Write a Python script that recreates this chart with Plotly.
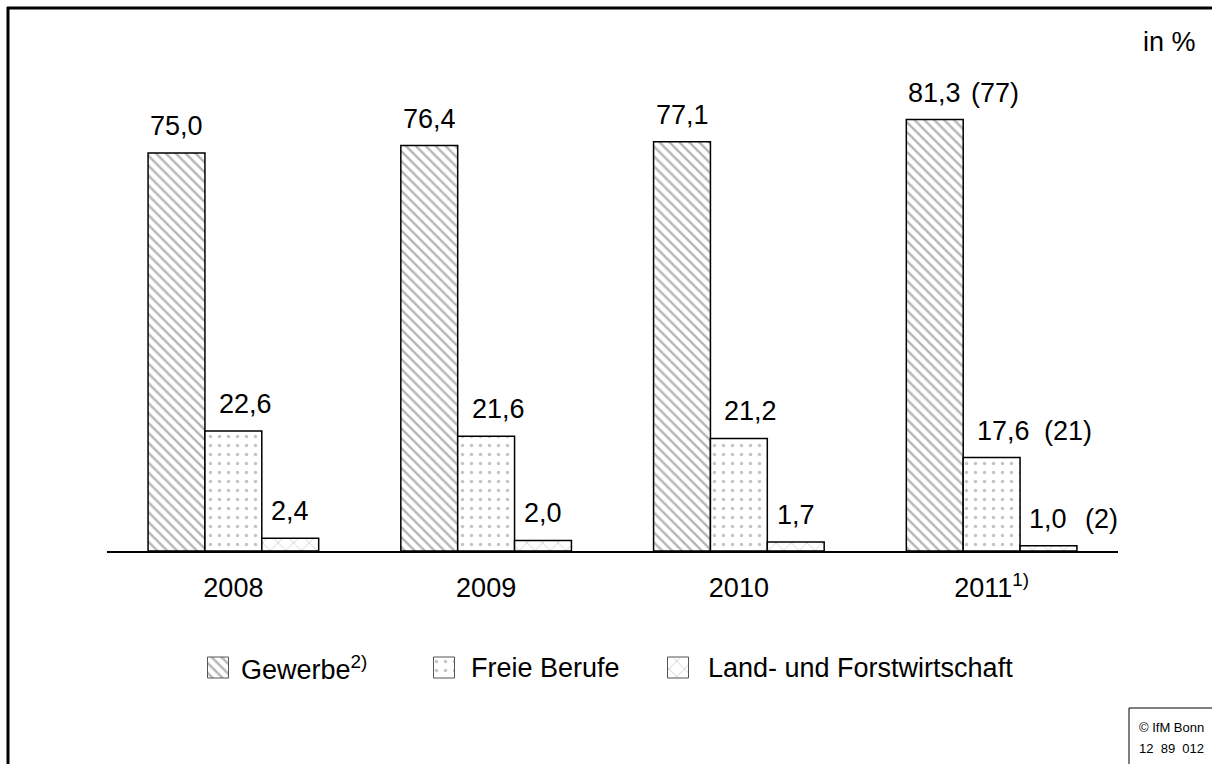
import plotly.graph_objects as go

years = ["2008", "2009", "2010", "2011<sup>1)</sup>"]
series_names = ["Gewerbe<sup>2)</sup>", "Freie Berufe", "Land- und Forstwirtschaft"]
gewerbe = [75.0, 76.4, 77.1, 81.3]
freie = [22.6, 21.6, 21.2, 17.6]
land = [2.4, 2.0, 1.7, 1.0]
notes_gewerbe = ["", "", "", "(77)"]
notes_freie = ["", "", "", "(21)"]
notes_land = ["", "", "", "(2)"]

W, H = 1212, 764
PLOT_L, PLOT_R, PLOT_T, PLOT_B = 107, 1118, 45, 551
PX_PER_UNIT = 5.307
YMAX = (PLOT_B - PLOT_T) / PX_PER_UNIT
FONT = "Arial, Liberation Sans, sans-serif"
FS = 27


def px(x):
    return x / W


def py(y):
    return 1 - y / H


def fmt(v):
    return f"{v:.1f}".replace(".", ",")


xs = list(range(len(years)))
pat_shapes = ["\\", ".", "x"]
pat_fg = ["#6e6e6e", "#8a8a8a", "#8a8a8a"]
pat_size = [7, 9, 11]
pat_sol = [0.35, 0.12, 0.12]
data = [gewerbe, freie, land]
notes = [notes_gewerbe, notes_freie, notes_land]

fig = go.Figure()
for k, (name, vals) in enumerate(zip(series_names, data)):
    fig.add_trace(go.Bar(
        x=xs, y=vals, name=name, showlegend=False,
        marker=dict(color="white",
                    pattern=dict(shape=pat_shapes[k], fgcolor=pat_fg[k], bgcolor="white",
                                 size=pat_size[k], solidity=pat_sol[k]),
                    line=dict(color="black", width=1.5)),
        xaxis="x", yaxis="y",
    ))

# legend swatches drawn on an overlay axis measured in pixels
leg_x = [218, 444, 678]
leg_y_top, leg_size = 657, 21
fig.add_trace(go.Bar(
    x=leg_x, y=[leg_size] * 3, base=[leg_y_top] * 3, width=[leg_size] * 3,
    showlegend=False, hoverinfo="skip",
    marker=dict(color="white",
                pattern=dict(shape=pat_shapes, fgcolor=pat_fg, bgcolor="white",
                             size=pat_size, solidity=pat_sol),
                line=dict(color="#555555", width=1)),
    xaxis="x2", yaxis="y2",
))

bargap = 0.325
bw = (1 - bargap) / 3
offsets = [-bw, 0, bw]
xshifts = [0, 12, 0]
note_shifts = [34, 50, 35]
annotations = []
for k, (vals, nts) in enumerate(zip(data, notes)):
    for i, v in enumerate(vals):
        annotations.append(dict(
            x=xs[i] + offsets[k], y=v, xref="x", yref="y", text=fmt(v),
            showarrow=False, yanchor="middle", yshift=27, xshift=xshifts[k],
            font=dict(family=FONT, size=FS, color="black")))
        if nts[i]:
            annotations.append(dict(
                x=xs[i] + offsets[k], y=v, xref="x", yref="y", text=nts[i],
                showarrow=False, xanchor="left", yanchor="middle", yshift=27,
                xshift=note_shifts[k],
                font=dict(family=FONT, size=FS, color="black")))

leg_text_gap = [10, 14, 17]
for name, lx, g in zip(series_names, leg_x, leg_text_gap):
    annotations.append(dict(x=px(lx + leg_size / 2 + g), y=py(668), xref="paper", yref="paper",
                            text=name, showarrow=False, xanchor="left", yanchor="middle",
                            font=dict(family=FONT, size=FS, color="black")))

annotations.append(dict(x=px(1198), y=py(42), xref="paper", yref="paper", text="in %",
                        showarrow=False, xanchor="right", yanchor="middle",
                        font=dict(family=FONT, size=FS, color="black")))
annotations.append(dict(x=px(1137), y=py(727), xref="paper", yref="paper", text="© IfM Bonn",
                        showarrow=False, xanchor="left", yanchor="middle",
                        font=dict(family=FONT, size=13, color="black")))
annotations.append(dict(x=px(1137), y=py(748), xref="paper", yref="paper", text="12  89  012",
                        showarrow=False, xanchor="left", yanchor="middle",
                        font=dict(family=FONT, size=13, color="black")))

shapes = [
    dict(type="line", xref="paper", yref="paper", x0=px(8), x1=px(8), y0=py(7), y1=py(770),
         line=dict(color="black", width=3)),
    dict(type="line", xref="paper", yref="paper", x0=px(7), x1=px(1220), y0=py(8), y1=py(8),
         line=dict(color="black", width=3)),
    dict(type="rect", xref="paper", yref="paper", x0=px(1129), x1=px(1230), y0=py(708), y1=py(780),
         line=dict(color="black", width=1)),
]

fig.update_layout(
    width=W, height=H,
    margin=dict(l=0, r=0, t=0, b=0, pad=0),
    paper_bgcolor="white", plot_bgcolor="rgba(0,0,0,0)",
    barmode="group", bargap=bargap, bargroupgap=0,
    font=dict(family=FONT, size=FS, color="black"),
    xaxis=dict(domain=[px(PLOT_L), px(PLOT_R)], range=[-0.5, 3.5], anchor="y",
               tickmode="array", tickvals=xs, ticktext=years,
               showgrid=False, zeroline=False, showline=True, linecolor="black", linewidth=1.5,
               ticks="", ticklabelstandoff=12, tickfont=dict(family=FONT, size=FS)),
    yaxis=dict(domain=[py(PLOT_B), py(PLOT_T)], range=[0, YMAX], anchor="x",
               visible=False, showgrid=False, zeroline=False),
    xaxis2=dict(domain=[0, 1], range=[0, W], anchor="y2", visible=False, fixedrange=True),
    yaxis2=dict(domain=[0, 1], range=[H, 0], anchor="x2", visible=False, fixedrange=True),
    showlegend=False,
    annotations=annotations,
    shapes=shapes,
)

fig.write_html("out.html", config={"displayModeBar": False},
               post_script="document.body.style.margin='0';document.body.style.overflow='hidden';")
